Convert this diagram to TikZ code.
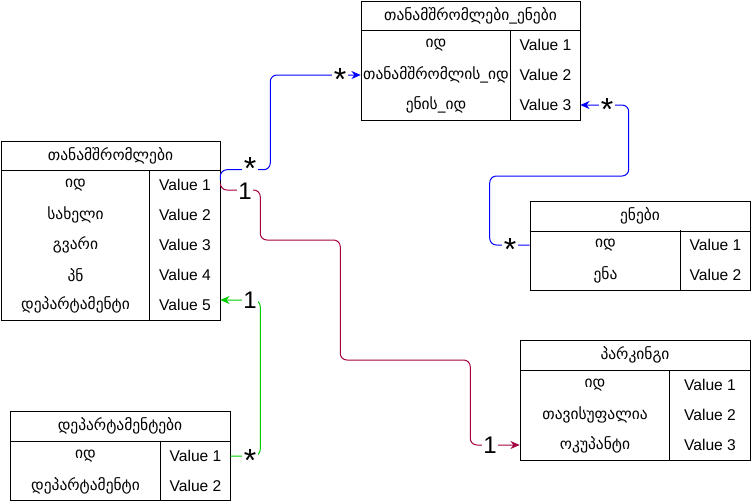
\documentclass[tikz,border=0pt]{standalone}
\usepackage{fontspec}
\setmainfont{Liberation Sans}
\newfontfamily\geo{DejaVu Sans}
\usetikzlibrary{positioning,arrows.meta,calc}
\definecolor{maroonln}{HTML}{A50040}
\definecolor{greenln}{HTML}{00CC00}

\begin{document}
\begin{tikzpicture}[x=0.75pt, y=-0.75pt, >={Stealth[length=7pt,width=6pt]},
      font=\fontsize{11.7}{14}\selectfont,
      tbl/.style={draw, line width=0.75pt, inner sep=0pt},
      hd/.style={draw, line width=0.75pt, inner sep=0pt, minimum height=22.5pt, font=\geo\fontsize{11.6}{13}\selectfont},
      key/.style={inner sep=0pt, minimum height=22.5pt, font=\geo\fontsize{11.6}{13}\selectfont},
      val/.style={inner sep=0pt, minimum height=22.5pt},
      rel/.style={line width=0.75pt, rounded corners=5pt},
      onelab/.style={fill=white, inner sep=1pt, font=\fontsize{18}{18}\selectfont},
      manylab/.style={fill=white, inner sep=1pt, text height=8pt, text depth=0pt, font=\fontsize{24}{24}\selectfont}]
      \useasboundingbox (0,0) rectangle (751,501);
      % თანამშრომლები_ენები
      \node[hd, minimum width=164.25pt, minimum height=21.75pt] (elH) at (470.5,15.5) {თანამშრომლები\_ენები};
      \node[tbl, minimum width=164.25pt, minimum height=67.5pt] (elB) at (470.5,75) {};
      \node[key, minimum width=112.5pt] (el1) at (436,45) {იდ};
      \node[key, minimum width=112.5pt] (el2) at (436,75) {თანამშრომლის\_იდ};
      \node[key, minimum width=112.5pt] (el3) at (436,105) {ენის\_იდ};
      \foreach \i/\y in {1/45,2/75,3/105}
        \node[val, minimum width=51.75pt] (elv\i) at (545.5,\y) {Value \i};
      \draw[line width=0.75pt] (elv1.north west) -- (elv3.south west);
      % თანამშრომლები
      \node[hd, minimum width=164.25pt, minimum height=21.75pt] (empH) at (110.5,155.5) {თანამშრომლები};
      \node[tbl, minimum width=164.25pt, minimum height=112.5pt] (empB) at (110.5,245) {};
      \node[key, minimum width=111.75pt] (emp1) at (75.5,185) {იდ};
      \node[key, minimum width=111.75pt] (emp2) at (75.5,215) {სახელი};
      \node[key, minimum width=111.75pt] (emp3) at (75.5,245) {გვარი};
      \node[key, minimum width=111.75pt] (emp4) at (75.5,275) {პნ};
      \node[key, minimum width=111.75pt] (emp5) at (75.5,305) {დეპარტამენტი};
      \foreach \i/\y in {1/185,2/215,3/245,4/275,5/305}
        \node[val, minimum width=52.5pt] (empv\i) at (185,\y) {Value \i};
      \draw[line width=0.75pt] (empv1.north west) -- (empv5.south west);
      % ენები
      \node[hd, minimum width=165pt] (lH) at (640,216) {ენები};
      \node[tbl, minimum width=165pt, minimum height=44.25pt] (lB) at (640,260.5) {};
      \node[key, minimum width=113.25pt] (lk1) at (605.5,245) {იდ};
      \node[key, minimum width=113.25pt] (lk2) at (605.5,275) {ენა};
      \foreach \i/\y in {1/245,2/275}
        \node[val, minimum width=51.75pt] (lv\i) at (715.5,\y) {Value \i};
      \draw[line width=0.75pt] (lv1.north west) -- (lB.south west -| lv1.west);
      % პარკინგი
      \node[hd, minimum width=172.5pt] (pkH) at (635,355) {პარკინგი};
      \node[tbl, minimum width=172.5pt, minimum height=67.5pt] (pkB) at (635,415) {};
      \node[key, minimum width=112.5pt] (pk1) at (595,385) {იდ};
      \node[key, minimum width=112.5pt] (pk2) at (595,415) {თავისუფალია};
      \node[key, minimum width=112.5pt] (pk3) at (595,445) {ოკუპანტი};
      \foreach \i/\y in {1/385,2/415,3/445}
        \node[val, minimum width=60pt] (pkv\i) at (710,\y) {Value \i};
      \draw[line width=0.75pt] (pkv1.north west) -- (pkv3.south west);
      % დეპარტამენტები
      \node[hd, minimum width=165pt] (dH) at (120,426) {დეპარტამენტები};
      \node[tbl, minimum width=165pt, minimum height=44.25pt] (dB) at (120,470.5) {};
      \node[key, minimum width=113.25pt] (dk1) at (85.5,456) {იდ};
      \node[key, minimum width=113.25pt] (dk2) at (85.5,485.5) {დეპარტამენტი};
      \foreach \i/\y in {1/456,2/485.5}
        \node[val, minimum width=51.75pt] (dv\i) at (195.5,\y) {Value \i};
      \draw[line width=0.75pt] (dv1.north west) -- (dB.south west -| dv1.west);
      % relations
      \draw[rel, blue, ->] ($(empv1.east)+(0,-5)$) -- (empv1.north east) -- ++(50,0) |- (el2.west);
      \draw[rel, maroonln, ->] (empv1.east) -- ++(0,5) -- ++(40,0) -- ++(0,50) -- ++(80,0)
        -- ++(0,120) -- ++(130,0) |- (pk3.west);
      \draw[rel, greenln, ->] (dv1.east) -- ++(30,0) |- ($(empv5.east)+(0,-5)$);
      \draw[rel, blue, ->] (lk1.west) -- ++(-40,0) -- ++(0,-69) -- ++(139,0) |- (elv3.east);
      \node[manylab] (c1) at (250,164) {\raisebox{-7.5pt}{*}};
      \node[manylab] (c2) at (340,75) {\raisebox{-7.5pt}{*}};
      \node[onelab] (c3) at (245,191) {1};
      \node[onelab] (c4) at (490,445) {1};
      \node[onelab] (c5) at (250,300) {1};
      \node[manylab] (c6) at (250,456) {\raisebox{-7.5pt}{*}};
      \node[manylab] (c7) at (510,245) {\raisebox{-7.5pt}{*}};
      \node[manylab] (c8) at (607,105) {\raisebox{-7.5pt}{*}};
    \end{tikzpicture}
\end{document}
